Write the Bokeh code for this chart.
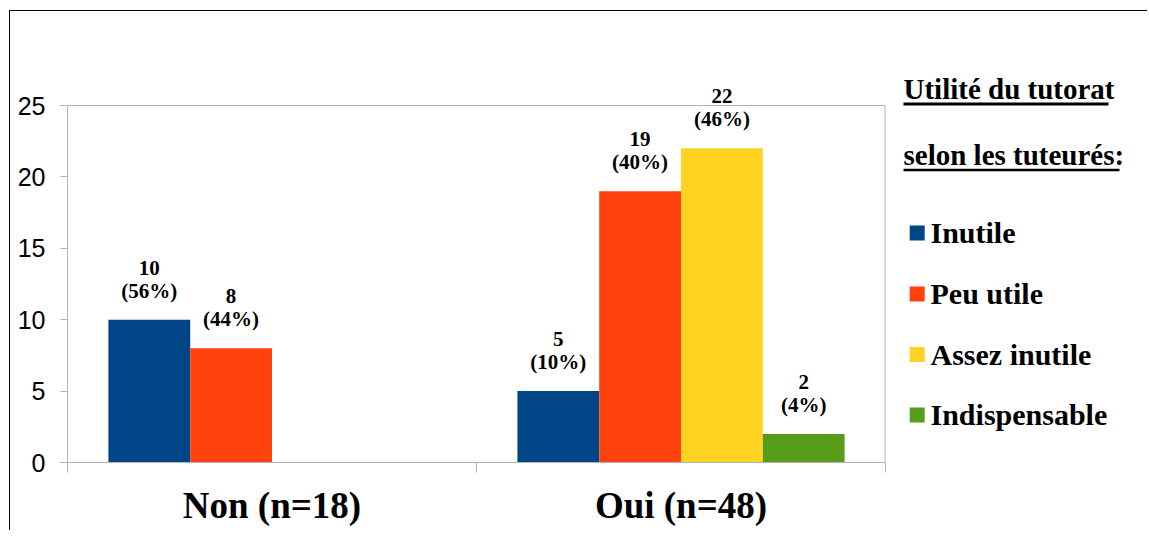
from bokeh.plotting import figure
from bokeh.models import Range1d, FixedTicker, ColumnDataSource
from bokeh.layouts import row
from bokeh.embed import file_html
from bokeh.resources import INLINE
from bokeh.core.properties import value

# ---- data ----
categories = ["Non (n=18)", "Oui (n=48)"]
series = ["Inutile", "Peu utile", "Assez inutile", "Indispensable"]
inutile = [10, 5]
peu_utile = [8, 19]
assez_inutile = [0, 22]
indispensable = [0, 2]
pct_inutile = ["56%", "10%"]
pct_peu_utile = ["44%", "40%"]
pct_assez_inutile = ["", "46%"]
pct_indispensable = ["", "4%"]
y_ticks = [0, 5, 10, 15, 20, 25]
legend_title = ["Utilité du tutorat", "selon les tuteurés:"]

values = [inutile, peu_utile, assez_inutile, indispensable]
pcts = [pct_inutile, pct_peu_utile, pct_assez_inutile, pct_indispensable]
colors = ["#004586", "#ff420e", "#ffd320", "#579d1c"]
offsets = [-0.3, -0.1, 0.1, 0.3]
GRAY = "#b3b3b3"
SERIF = "Liberation Serif"
SANS = "Liberation Sans"

YMAX = max(y_ticks)
FH_AXIS = 357          # pixel height of 0..25
FH = 386               # frame height incl. headroom for labels
y_end = YMAX * FH / FH_AXIS

p = figure(output_backend="svg", toolbar_location=None,
           frame_width=818, frame_height=FH,
           min_border_left=57, min_border_top=65, min_border_right=1,
           min_border_bottom=55,
           x_range=Range1d(0, len(categories)), y_range=Range1d(0, y_end),
           background_fill_color="white", border_fill_color="white")
p.frame_align = False
p.outline_line_color = None
p.xgrid.visible = False
p.ygrid.ticker = FixedTicker(ticks=[YMAX])
p.ygrid.grid_line_color = GRAY

# right border of plot area
p.segment(x0=[len(categories)], y0=[0], x1=[len(categories)], y1=[YMAX],
          line_color=GRAY, line_width=2)

for vals, pc, col, off in zip(values, pcts, colors, offsets):
    xs = [i + 0.5 + off for i in range(len(categories))]
    src = ColumnDataSource(dict(x=xs, top=vals))
    p.vbar(x="x", top="top", width=0.2, source=src, fill_color=col, line_color=None)
    lx, ly, ln, lp = [], [], [], []
    for x, v, s in zip(xs, vals, pc):
        if v > 0:
            lx.append(x); ly.append(v); ln.append(str(v)); lp.append(f"({s})")
    common = dict(text_align="center", text_baseline="middle", text_font=value(SERIF),
                  text_font_style="bold", text_font_size="21px", text_color="black")
    p.text(x=lx, y=ly, text=lp, y_offset=-29, **common)
    p.text(x=lx, y=ly, text=ln, y_offset=-52, **common)

# y axis
ya = p.yaxis[0]
ya.ticker = FixedTicker(ticks=y_ticks)
ya.bounds = (0, YMAX)
ya.axis_line_color = GRAY
ya.major_tick_line_color = GRAY
ya.major_tick_out = 7
ya.major_tick_in = 0
ya.minor_tick_line_color = None
ya.major_label_text_font = SANS
ya.major_label_text_font_size = "25px"
ya.major_label_text_color = "black"
ya.major_label_standoff = 15

# x axis
xa = p.xaxis[0]
xa.ticker = FixedTicker(ticks=[i + 0.5 for i in range(len(categories))],
                        minor_ticks=list(range(len(categories) + 1)))
xa.major_label_overrides = {i + 0.5: c for i, c in enumerate(categories)}
xa.axis_line_color = GRAY
xa.major_tick_line_color = None
xa.major_tick_out = 0
xa.major_tick_in = 0
xa.minor_tick_line_color = GRAY
xa.minor_tick_out = 10
xa.minor_tick_in = 0
xa.major_label_text_font = SERIF
xa.major_label_text_font_style = "bold"
xa.major_label_text_font_size = "37px"
xa.major_label_text_color = "black"
xa.major_label_standoff = 12

# legend panel (coordinates in page pixels)
LX0, LW, LY0, LH = 886, 262, 11, 520
leg = figure(output_backend="svg", toolbar_location=None, width=LW, height=LH,
             x_range=Range1d(LX0, LX0 + LW), y_range=Range1d(LY0 + LH, LY0),
             x_axis_location=None, y_axis_location=None, min_border=0,
             background_fill_color="white", border_fill_color="white")
leg.frame_align = False
leg.outline_line_color = None
leg.grid.visible = False

title_base = [99, 165]
title_ul_end = [1108, 1119]
title_ul_w = [3, 2.5]
leg.text(x=[903, 903], y=[b - 11 for b in title_base], text=legend_title, text_align="left",
         text_baseline="middle", text_font=value(SERIF), text_font_style="bold",
         text_font_size="29px", text_color="black")
for yb, xe, lw in zip(title_base, title_ul_end, title_ul_w):
    leg.segment(x0=[903], y0=[yb + 4.5], x1=[xe], y1=[yb + 4.5], line_color="black", line_width=lw)

item_base = [243.5, 304.5, 365, 425.5]
leg.rect(x=[916.7] * 4, y=[b - 11 for b in item_base], width=15, height=15,
         fill_color=colors, line_color=None)
leg.text(x=[930] * 4, y=[b - 11.5 for b in item_base], text=series, text_align="left",
         text_baseline="middle", text_font=value(SERIF), text_font_style="bold",
         text_font_size="30px", text_color="black")

layout = row(p, leg, margin=(11, 0, 0, 10),
             styles={"box-shadow": "-1px -1px 0 0 black", "background": "white"})

open("out.html", "w").write(file_html(layout, INLINE))
